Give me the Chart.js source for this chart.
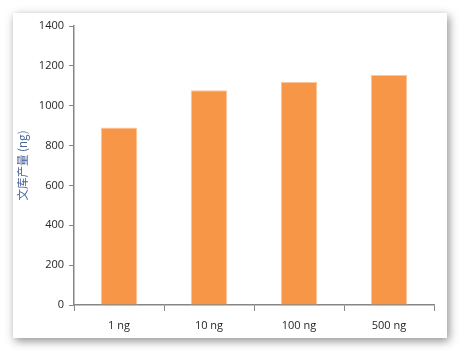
<!DOCTYPE html>
<html><head><meta charset="utf-8">
<script src="https://cdn.jsdelivr.net/npm/chart.js@4/dist/chart.umd.min.js"></script>
<style>
html,body{margin:0;padding:0;background:#fff;width:462px;height:351px;overflow:hidden;}
#panel{position:absolute;left:13px;top:13px;width:434px;height:325px;background:#fff;box-shadow:2px 3px 9px rgba(0,0,0,0.45);}
#wrap{position:absolute;left:0;top:0;width:462px;height:351px;}
</style></head>
<body>
<div id="panel"></div>
<div id="wrap"><canvas id="c" width="462" height="351"></canvas></div>
<script>
const categories = ['1 ng', '10 ng', '100 ng', '500 ng'];
const yields = [891, 1077, 1119, 1154];
const yTicks = [0, 200, 400, 600, 800, 1000, 1200, 1400];
const yTitle = '文库产量 (ng)';

const font = "'Open Sans','DejaVu Sans',sans-serif";
new Chart(document.getElementById('c'), {
  type: 'bar',
  data: { labels: categories, datasets: [{ data: yields, backgroundColor: '#F79646', borderColor: '#FBC79F', borderWidth: {left:1,right:1,top:1,bottom:0}, categoryPercentage: 1, barPercentage: 0.405 }] },
  options: {
    responsive: false, animation: false,
    layout: { padding: { left: 16, right: 28, top: 26, bottom: 0 } },
    plugins: { legend: { display: false }, tooltip: { enabled: false } },
    scales: {
      x: {
        grid: { display: true, drawOnChartArea: false, drawTicks: true, tickLength: 6, color: '#868686', offset: true },
        border: { color: '#868686', width: 1.5 },
        ticks: { color: '#262626', font: { family: font, size: 11 }, padding: 8 },
        afterFit: s => { s.height = 46; }
      },
      y: {
        min: 0, max: 1400,
        afterBuildTicks: s => { s.ticks = yTicks.map(v => ({ value: v })); },
        grid: { display: true, drawOnChartArea: false, drawTicks: true, tickLength: 5, color: '#868686' },
        border: { color: '#868686', width: 1.5 },
        ticks: { color: '#262626', font: { family: font, size: 11 }, padding: 5, callback: v => String(v) },
        title: { display: true, text: yTitle, color: '#4a6497', font: { family: "'Noto Sans CJK SC',sans-serif", size: 11.5 }, padding: { top: 0, bottom: 0 } },
        afterFit: s => { s.width = 58; }
      }
    }
  }
});
</script>
</body></html>
